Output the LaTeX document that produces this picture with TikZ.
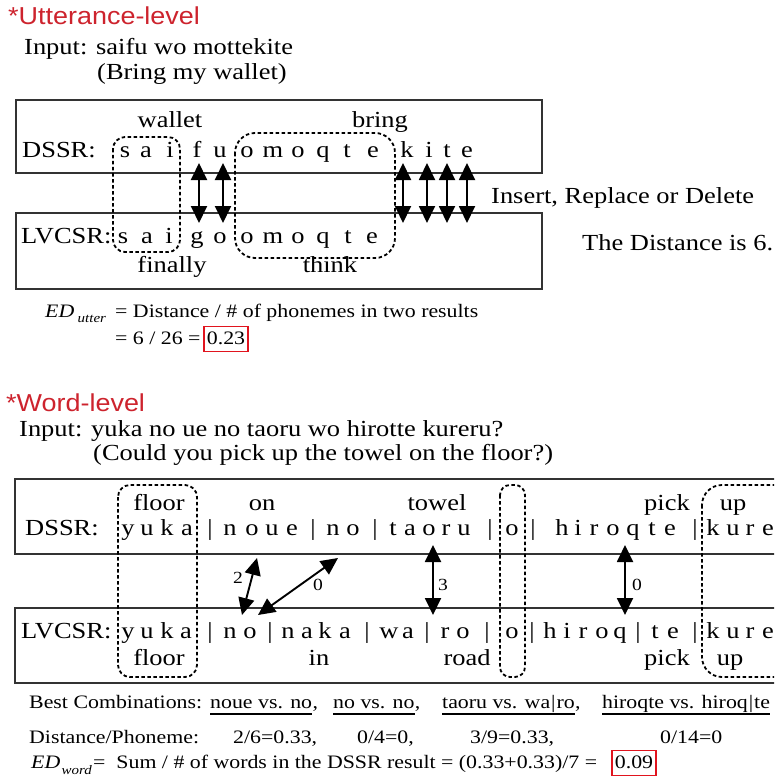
\documentclass[tikz,border=0pt]{standalone}
\usepackage{fontspec}
\setmainfont{Liberation Serif}[FakeStretch=1.15]
\newfontfamily\hdfont{Liberation Sans}[FakeStretch=1.1]
\usetikzlibrary{arrows.meta}
\definecolor{hdred}{RGB}{205,35,45}
\definecolor{bxred}{RGB}{225,20,30}
\newcommand\szL{\fontsize{23}{26}\selectfont}
\newcommand\szM{\fontsize{19}{22}\selectfont}
\newcommand\szS{\fontsize{17}{19}\selectfont}
\newcommand\szH{\fontsize{24.5}{28}\selectfont}
\newcommand\szT{\fontsize{13}{15}\selectfont}
\begin{document}
\begin{tikzpicture}[x=1pt,y=-1pt,
  txt/.style={inner sep=0pt, anchor=base west},
  big/.style={txt, font=\szL},
  ch/.style={inner sep=0pt, anchor=base, font=\szL},
  med/.style={txt, font=\szM},
  head/.style={txt, font=\hdfont\szH, text=hdred},
  lbl/.style={inner sep=0pt, anchor=base, font=\szS},
  frame/.style={draw=black!80, line width=1.4pt, inner sep=0pt},
  dbox/.style={draw=black, line width=1.8pt, dash pattern=on 3.5pt off 2.5pt, rounded corners=#1},
  dbox/.default=12pt,
  dbl/.style={{Triangle[length=17pt,width=16pt]}-{Triangle[length=17pt,width=16pt]}, line width=1.9pt},
  val/.style={font=\szM, anchor=base, draw=bxred, line width=1.3pt, inner xsep=3pt, inner ysep=4.5pt, text height=13pt, text depth=3pt},
  uline/.style={line width=1.4pt}
]
\useasboundingbox (0,0) rectangle (774,778);
\clip (0,0) rectangle (774,778);

% ---------------- Utterance level ----------------
\node[head] (h1) at (8,25) {*Utterance-level};
\node[big] (in1) at (24,55) {Input: saifu wo mottekite};
\node[big] (tr1) at (97,80) {(Bring my wallet)};

\node[frame, minimum width=526pt, minimum height=73pt] (dsbox1) at (279,136.5) {};
\node[frame, minimum width=526pt, minimum height=76pt] (lvbox1) at (279,251) {};

\node[big] (ds1) at (22,158) {DSSR:};
\node[big] (lv1) at (21,243) {LVCSR:};
\foreach \c/\x [count=\i] in {s/125,a/146,i/170,f/197,u/220,o/247,m/273,o/298,q/323,t/347,e/373,k/407,i/429,t/447,e/467}
  \node[ch] (tu\i) at (\x,158) {\c};
\foreach \c/\x [count=\i] in {s/123,a/147,i/169,g/197,o/220,o/247,m/273,o/298,q/323,t/348,e/372}
  \node[ch] (lu\i) at (\x,243) {\c};

\node[ch] (wal) at (170,128) {wallet};
\node[ch] (bri) at (380,128) {bring};
\node[ch] (fin) at (172,272) {finally};
\node[ch] (thi) at (330,272) {think};

\draw[dbox] (113,137) rectangle (180,252);
\draw[dbox=20pt] (235,133) rectangle (395,258);

\foreach \x [count=\i] in {199,223,403,427,447,467} {
  \coordinate (at\i) at (\x,163);
  \coordinate (ab\i) at (\x,223);
  \draw[dbl] (at\i) -- (ab\i);
}

\node[big] (ird) at (491,203) {Insert, Replace or Delete};
\node[big] (dis) at (582,250) {The Distance is 6.};

\node[med, font=\szM\itshape] (ed1) at (45,317) {ED};
\node[txt, font=\szT\itshape] (ed1s) at ([xshift=3pt,yshift=-5pt]ed1.base east) {utter};
\node[med] (f1) at (115,317) {= Distance / \# of phonemes in two results};
\node[med] (f2) at (115,344) {= 6 / 26 =};
\node[val] (v1) at (226,344) {0.23};

% ---------------- Word level ----------------
\node[head] (h2) at (6,411) {*Word-level};
\node[big] (in2) at (19,436) {Input: yuka no ue no taoru wo hirotte kureru?};
\node[big] (tr2) at (93,460) {(Could you pick up the towel on the floor?)};

\node[frame, minimum width=785pt, minimum height=75pt] (dsbox2) at (407.5,516.5) {};
\node[frame, minimum width=785pt, minimum height=75pt] (lvbox2) at (407.5,645.5) {};

\node[big] (ds2) at (25,535) {DSSR:};
\node[big] (lv2) at (21,638) {LVCSR:};
\foreach \c/\x [count=\i] in {y/128,u/147,k/167,a/187,|/210,n/230,o/252,u/272,e/292,|/313,n/333,o/353,|/375,t/393,a/410,o/429,r/446,u/464,|/490,o/512,|/533,h/562,i/578,r/594,o/613,q/633,t/652,e/670,|/695,k/713,u/733,r/750,e/768,r/787,u/805}
  \node[ch] (tw\i) at (\x,535) {\c};
\foreach \c/\x [count=\i] in {y/128,u/147,k/167,a/186,|/210,n/230,o/250,|/270,n/288,a/307,k/325,a/345,|/367,w/389,a/408,|/427,r/445,o/463,|/487,o/512,|/532,h/550,i/567,r/583,o/602,q/620,|/638,t/655,e/673,|/695,k/713,u/733,r/750,e/768,r/787,u/805}
  \node[ch] (lw\i) at (\x,638) {\c};

\node[ch] (g1) at (159,510) {floor};
\node[ch] (g2) at (262,510) {on};
\node[ch] (g3) at (437,510) {towel};
\node[ch] (g4) at (667,510) {pick};
\node[ch] (g5) at (733,510) {up};
\node[ch] (k1) at (159,665) {floor};
\node[ch] (k2) at (319,665) {in};
\node[ch] (k3) at (467,665) {road};
\node[ch] (k4) at (667,665) {pick};
\node[ch] (k5) at (730,665) {up};

\draw[dbox] (118,485) rectangle (197,677);
\draw[dbox=10pt] (500,485) rectangle (525,677);
\draw[dbox=20pt] (702,485) rectangle (840,677);

\coordinate (p1t) at (257,558); \coordinate (p1b) at (242,615);
\coordinate (p2t) at (338,558); \coordinate (p2b) at (258,615);
\coordinate (p3t) at (433,545); \coordinate (p3b) at (433,615);
\coordinate (p4t) at (625,545); \coordinate (p4b) at (625,615);
\draw[dbl] (p1t) -- (p1b);
\draw[dbl] (p2t) -- (p2b);
\draw[dbl] (p3t) -- (p3b);
\draw[dbl] (p4t) -- (p4b);
\node[lbl] (n1) at (238,583) {2};
\node[lbl] (n2) at (318,590) {0};
\node[lbl] (n3) at (443,590) {3};
\node[lbl] (n4) at (637,590) {0};

% ---------------- bottom text ----------------
\node[med] (bc) at (29,708) {Best Combinations:};
\node[med] (c1) at (210,708) {noue vs. no};
\node[med] (c1c) at (c1.base east) {,};
\node[med] (c2) at (333,708) {no vs. no};
\node[med] (c2c) at (c2.base east) {,};
\node[med] (c3) at (442,708) {taoru vs. wa{\kern1pt}|{\kern1pt}ro};
\node[med] (c3c) at (c3.base east) {,};
\node[med] (c4) at (602,708) {hiroqte vs. hiroq{\kern1pt}|{\kern1pt}te};
\foreach \n in {c1,c2,c3,c4}
  \draw[uline] ([yshift=-6pt]\n.base west) -- ([yshift=-6pt]\n.base east);

\node[med] (dp) at (29,743) {Distance/Phoneme:};
\node[med] (d1) at (233,743) {2/6=0.33,};
\node[med] (d2) at (357,743) {0/4=0,};
\node[med] (d3) at (470,743) {3/9=0.33,};
\node[med] (d4) at (660,743) {0/14=0};

\node[med, font=\szM\itshape] (ed2) at (31,768) {ED};
\node[txt, font=\szT\itshape] (ed2s) at ([xshift=1pt,yshift=-6pt]ed2.base east) {word};
\node[med] (f3) at (93,768) {=\ \ Sum / \# of words in the DSSR result = (0.33+0.33)/7 =};
\node[val] (v2) at (634,768) {0.09};
\end{tikzpicture}
\end{document}
